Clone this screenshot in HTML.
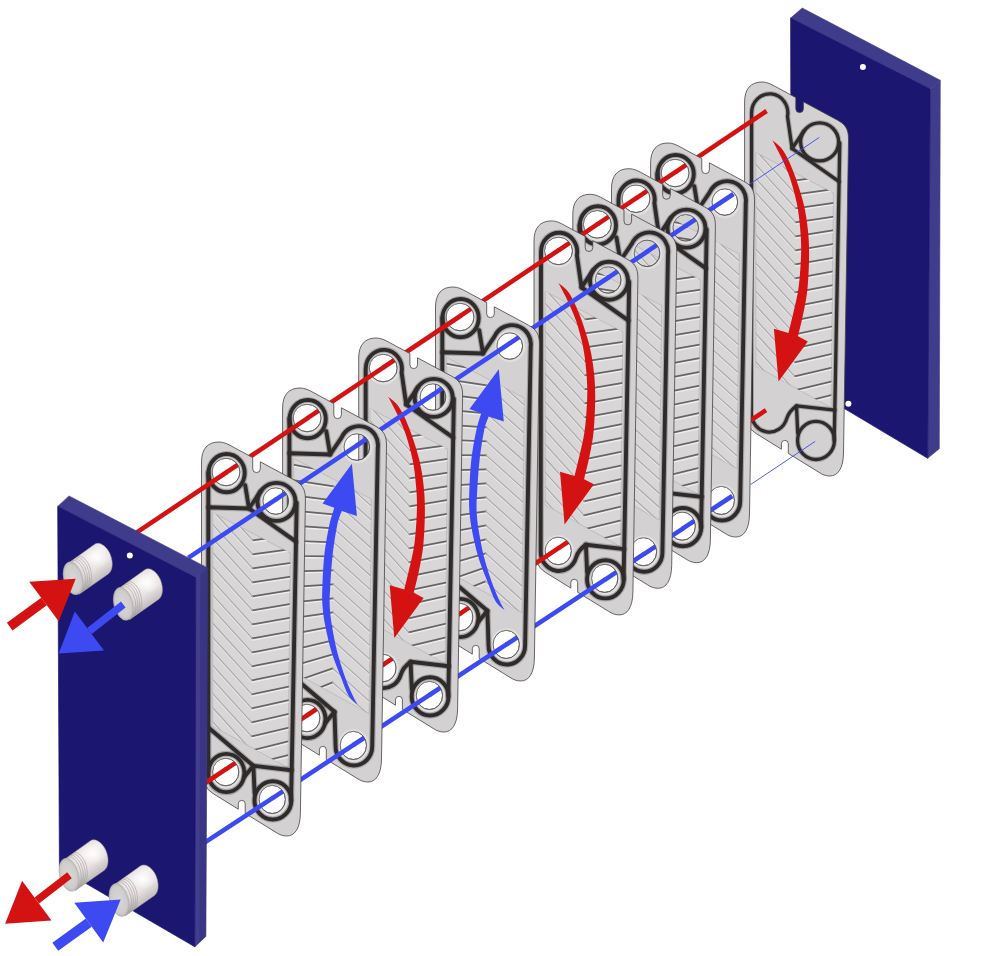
<!DOCTYPE html>
<html><head><meta charset="utf-8"><title>Plate heat exchanger</title>
<style>html,body{margin:0;padding:0;background:#fff}svg{display:block}</style></head>
<body><svg width="1000" height="956" viewBox="0 0 1000 956">
<defs><clipPath id="fc"><polygon points="212.7,512.5 290.3,553 288,767.7 212.7,726"/></clipPath><path id="po" d="M201.5,462 C201.5,449 207.5,442 219,442 C224,442 228,444.2 232,446.4 L252.7,457.6 L252.7,468.8 A3.8,3.8 0 0,0 260.3,468.8 L260.3,461.8 L294.5,480.2 C301.5,484 305.7,488.5 305.4,500 L300.4,813 C300.2,828 295,836.2 286.5,836 C282,835.9 279.5,834.5 276,832.4 L245.2,813.4 L245.2,803.8 A3.45,3.45 0 0,0 238.3,803.8 L238.3,809.2 L213,793.5 Q201.7,787 201.5,768 ZM212.0,472.0a14.0,13.8 0 1,0 28.0,0a14.0,13.8 0 1,0 -28.0,0ZM262.8,501.0a12.9,13.3 0 1,0 25.8,0a12.9,13.3 0 1,0 -25.8,0ZM212.5,772.0a13.2,13.8 0 1,0 26.4,0a13.2,13.8 0 1,0 -26.4,0ZM259.0,799.4a13.2,14.1 0 1,0 26.4,0a13.2,14.1 0 1,0 -26.4,0Z" fill-rule="evenodd" fill="#d3d1d1" stroke="#454242" stroke-width="0.8"/><path id="pod" d="M201.5,462 C201.5,449 207.5,442 219,442 C224,442 228,444.2 232,446.4 L252.7,457.6 L252.7,468.8 A3.8,3.8 0 0,0 260.3,468.8 L260.3,461.8 L294.5,480.2 C301.5,484 305.7,488.5 305.4,500 L300.4,813 C300.2,828 295,836.2 286.5,836 C282,835.9 279.5,834.5 276,832.4 L245.2,813.4 L245.2,803.8 A3.45,3.45 0 0,0 238.3,803.8 L238.3,809.2 L213,793.5 Q201.7,787 201.5,768 Z" fill="#d3d1d1" stroke="#454242" stroke-width="0.8"/><g id="fV"><polygon points="212.7,512.5 290.3,553 288,767.7 212.7,726" fill="#d8d6d6" stroke="#aeacac" stroke-width="0.6"/><g clip-path="url(#fc)" fill="none" stroke-linecap="round"><path d="M253.1,472.1L292,468.5M253.0,486.1L292,482.2M252.9,500.1L292,495.9M252.9,514.1L292,509.6M252.8,528.1L292,523.3M252.7,542.1L292,537.0M252.6,556.1L292,550.7M252.5,570.1L292,564.4M252.4,584.1L292,578.1M252.4,598.1L292,591.7M252.3,612.1L292,605.4M252.2,626.1L292,619.1M252.1,640.1L292,632.8M252.0,654.1L292,646.5M251.9,668.1L292,660.2M251.9,682.1L292,673.8M251.8,696.1L292,687.5M251.7,710.1L292,701.2M251.6,724.1L292,714.9M251.5,738.1L292,728.5M251.4,752.1L292,742.2M251.3,766.1L292,755.9M251.3,780.1L292,769.6M251.2,794.1L292,783.2M251.1,808.1L292,796.9M251.0,822.1L292,810.6M250.9,836.1L292,824.2M250.8,850.1L292,837.9M250.8,864.1L292,851.6" stroke="#eeeded" stroke-width="1.5"/><path d="M253.1,471.6L211,425.3M253.0,485.6L211,439.4M252.9,499.6L211,453.5M252.9,513.6L211,467.6M252.8,527.6L211,481.6M252.7,541.6L211,495.7M252.6,555.6L211,509.8M252.5,569.6L211,523.9M252.4,583.6L211,538.0M252.4,597.6L211,552.1M252.3,611.6L211,566.2M252.2,625.6L211,580.3M252.1,639.6L211,594.4M252.0,653.6L211,608.5M251.9,667.6L211,622.6M251.9,681.6L211,636.7M251.8,695.6L211,650.8M251.7,709.6L211,664.8M251.6,723.6L211,678.9M251.5,737.6L211,693.0M251.4,751.6L211,707.1M251.3,765.6L211,721.2M251.3,779.6L211,735.3M251.2,793.6L211,749.4M251.1,807.6L211,763.5M251.0,821.6L211,777.6M250.9,835.6L211,791.7M250.8,849.6L211,805.8M250.8,863.6L211,819.9" stroke="#eae9e9" stroke-width="1.2"/><path d="M253.1,470.4L292,466.8M253.0,484.4L292,480.5M252.9,498.4L292,494.2M252.9,512.4L292,507.9M252.8,526.4L292,521.6M252.7,540.4L292,535.3M252.6,554.4L292,549.0M252.5,568.4L292,562.7M252.4,582.4L292,576.4M252.4,596.4L292,590.0M252.3,610.4L292,603.7M252.2,624.4L292,617.4M252.1,638.4L292,631.1M252.0,652.4L292,644.8M251.9,666.4L292,658.5M251.9,680.4L292,672.1M251.8,694.4L292,685.8M251.7,708.4L292,699.5M251.6,722.4L292,713.2M251.5,736.4L292,726.8M251.4,750.4L292,740.5M251.3,764.4L292,754.2M251.3,778.4L292,767.9M251.2,792.4L292,781.5M251.1,806.4L292,795.2M251.0,820.4L292,808.9M250.9,834.4L292,822.5M250.8,848.4L292,836.2M250.8,862.4L292,849.9" stroke="#666464" stroke-width="1.7"/><path d="M253.1,470.4L211,424.1M253.0,484.4L211,438.2M252.9,498.4L211,452.3M252.9,512.4L211,466.4M252.8,526.4L211,480.4M252.7,540.4L211,494.5M252.6,554.4L211,508.6M252.5,568.4L211,522.7M252.4,582.4L211,536.8M252.4,596.4L211,550.9M252.3,610.4L211,565.0M252.2,624.4L211,579.1M252.1,638.4L211,593.2M252.0,652.4L211,607.3M251.9,666.4L211,621.4M251.9,680.4L211,635.5M251.8,694.4L211,649.6M251.7,708.4L211,663.6M251.6,722.4L211,677.7M251.5,736.4L211,691.8M251.4,750.4L211,705.9M251.3,764.4L211,720.0M251.3,778.4L211,734.1M251.2,792.4L211,748.2M251.1,806.4L211,762.3M251.0,820.4L211,776.4M250.9,834.4L211,790.5M250.8,848.4L211,804.6M250.8,862.4L211,818.7" stroke="#acaaaa" stroke-width="1.2"/></g></g><g id="fL"><polygon points="212.7,512.5 290.3,553 288,767.7 212.7,726" fill="#d8d6d6" stroke="#aeacac" stroke-width="0.6"/><g clip-path="url(#fc)" fill="none" stroke-linecap="round"><path d="M253.1,472.1L211,456.6M253.0,486.1L211,472.7M252.9,500.1L211,488.6M252.9,514.1L211,504.4M252.8,528.1L211,520.1M252.7,542.1L211,535.6M252.6,556.1L211,551.0M252.5,570.1L211,566.2M252.4,584.1L211,581.3M252.4,598.1L211,596.4M252.3,612.1L211,611.7M252.2,626.1L211,627.1M252.1,640.1L211,642.6M252.0,654.1L211,658.2M251.9,668.1L211,673.9M251.9,682.1L211,689.8M251.8,696.1L211,705.8M251.7,710.1L211,721.9M251.6,724.1L211,738.1M251.5,738.1L211,754.4M251.4,752.1L211,770.9M251.3,766.1L211,787.5M251.3,780.1L211,804.1M251.2,794.1L211,820.9M251.1,808.1L211,837.9M251.0,822.1L211,854.9M250.9,836.1L211,872.0M250.8,850.1L211,889.3M250.8,864.1L211,906.6" stroke="#eeeded" stroke-width="1.5"/><path d="M253.1,471.6L292,506.6M253.0,485.6L292,520.7M252.9,499.6L292,534.8M252.9,513.6L292,548.8M252.8,527.6L292,562.9M252.7,541.6L292,577.0M252.6,555.6L292,591.1M252.5,569.6L292,605.1M252.4,583.6L292,619.2M252.4,597.6L292,633.3M252.3,611.6L292,647.4M252.2,625.6L292,661.4M252.1,639.6L292,675.5M252.0,653.6L292,689.6M251.9,667.6L292,703.7M251.9,681.6L292,717.7M251.8,695.6L292,731.8M251.7,709.6L292,745.9M251.6,723.6L292,760.0M251.5,737.6L292,774.0M251.4,751.6L292,788.1M251.3,765.6L292,802.2M251.3,779.6L292,816.3M251.2,793.6L292,830.3M251.1,807.6L292,844.4M251.0,821.6L292,858.5M250.9,835.6L292,872.6M250.8,849.6L292,886.6M250.8,863.6L292,900.7" stroke="#eae9e9" stroke-width="1.2"/><path d="M253.1,470.4L211,454.9M253.0,484.4L211,471.0M252.9,498.4L211,486.9M252.9,512.4L211,502.7M252.8,526.4L211,518.4M252.7,540.4L211,533.9M252.6,554.4L211,549.3M252.5,568.4L211,564.5M252.4,582.4L211,579.6M252.4,596.4L211,594.7M252.3,610.4L211,610.0M252.2,624.4L211,625.4M252.1,638.4L211,640.9M252.0,652.4L211,656.5M251.9,666.4L211,672.2M251.9,680.4L211,688.1M251.8,694.4L211,704.1M251.7,708.4L211,720.2M251.6,722.4L211,736.4M251.5,736.4L211,752.7M251.4,750.4L211,769.2M251.3,764.4L211,785.8M251.3,778.4L211,802.4M251.2,792.4L211,819.2M251.1,806.4L211,836.2M251.0,820.4L211,853.2M250.9,834.4L211,870.3M250.8,848.4L211,887.6M250.8,862.4L211,904.9" stroke="#666464" stroke-width="1.7"/><path d="M253.1,470.4L292,505.4M253.0,484.4L292,519.5M252.9,498.4L292,533.6M252.9,512.4L292,547.6M252.8,526.4L292,561.7M252.7,540.4L292,575.8M252.6,554.4L292,589.9M252.5,568.4L292,603.9M252.4,582.4L292,618.0M252.4,596.4L292,632.1M252.3,610.4L292,646.2M252.2,624.4L292,660.2M252.1,638.4L292,674.3M252.0,652.4L292,688.4M251.9,666.4L292,702.5M251.9,680.4L292,716.5M251.8,694.4L292,730.6M251.7,708.4L292,744.7M251.6,722.4L292,758.8M251.5,736.4L292,772.8M251.4,750.4L292,786.9M251.3,764.4L292,801.0M251.3,778.4L292,815.1M251.2,792.4L292,829.1M251.1,806.4L292,843.2M251.0,820.4L292,857.3M250.9,834.4L292,871.4M250.8,848.4L292,885.4M250.8,862.4L292,899.5" stroke="#acaaaa" stroke-width="1.2"/></g></g><g id="gA" fill="none" stroke-linejoin="round" stroke-linecap="round"><g stroke="#2f2b2b" stroke-opacity="0.28" stroke-width="6.2"><path d="M249.0,508.5 L208.3,507.3 L208.3,727.4 L253.4,765.8 L291.7,770.2 L296.0,541.7 Z"/><ellipse cx="226.6" cy="473.1" rx="18.1" ry="19.1"/><ellipse cx="276.5" cy="501.9" rx="19.0" ry="19.0"/><ellipse cx="226.3" cy="773.0" rx="18.1" ry="19.1"/><ellipse cx="272.9" cy="800.4" rx="18.4" ry="19.1"/><path d="M208.3,507.3 L208.3,472.7 M208.3,727.4 L208.3,772.8 M296.0,541.7 L296.7,503 M291.7,770.2 L291.1,800 M245.2,485.2 L249.0,508.5 L260.6,491.3 M244.6,776.4 L253.4,765.8 L254.6,793"/></g><g stroke="#2f2b2b" stroke-width="3.9"><path d="M249.0,508.5 L208.3,507.3 L208.3,727.4 L253.4,765.8 L291.7,770.2 L296.0,541.7 Z"/><ellipse cx="226.6" cy="473.1" rx="18.1" ry="19.1"/><ellipse cx="276.5" cy="501.9" rx="19.0" ry="19.0"/><ellipse cx="226.3" cy="773.0" rx="18.1" ry="19.1"/><ellipse cx="272.9" cy="800.4" rx="18.4" ry="19.1"/><path d="M208.3,507.3 L208.3,472.7 M208.3,727.4 L208.3,772.8 M296.0,541.7 L296.7,503 M291.7,770.2 L291.1,800 M245.2,485.2 L249.0,508.5 L260.6,491.3 M244.6,776.4 L253.4,765.8 L254.6,793"/></g></g><g id="gB" fill="none" stroke-linejoin="round" stroke-linecap="round"><g stroke="#2f2b2b" stroke-opacity="0.28" stroke-width="6.2"><path d="M249.0,508.5 L208.3,507.3 L208.3,727.4 L253.4,765.8 L254.5,800.4 A18.4,19.1 0 0,0 272.9,819.5 A18.4,19.1 0 0,0 291.1,800.4 L296.7,501.9 A19.0,19.0 0 0,0 260.6,491.3 Z"/><ellipse cx="226.6" cy="473.1" rx="18.1" ry="19.1"/><ellipse cx="226.3" cy="773.0" rx="18.1" ry="19.1"/><path d="M208.3,507.3 L208.3,472.7 M208.3,727.4 L208.3,772.8 M245.2,485.2 L249.0,508.5 M244.6,776.4 L253.4,765.8"/></g><g stroke="#2f2b2b" stroke-width="3.9"><path d="M249.0,508.5 L208.3,507.3 L208.3,727.4 L253.4,765.8 L254.5,800.4 A18.4,19.1 0 0,0 272.9,819.5 A18.4,19.1 0 0,0 291.1,800.4 L296.7,501.9 A19.0,19.0 0 0,0 260.6,491.3 Z"/><ellipse cx="226.6" cy="473.1" rx="18.1" ry="19.1"/><ellipse cx="226.3" cy="773.0" rx="18.1" ry="19.1"/><path d="M208.3,507.3 L208.3,472.7 M208.3,727.4 L208.3,772.8 M245.2,485.2 L249.0,508.5 M244.6,776.4 L253.4,765.8"/></g></g><g id="gC" fill="none" stroke-linejoin="round" stroke-linecap="round"><g stroke="#2f2b2b" stroke-opacity="0.28" stroke-width="6.2"><path d="M249.0,508.5 L244.4,476.4 A18.1,19.1 0 1,0 208.5,473.1 L208.2,773.0 A18.1,19.1 0 0,0 243.6,778.6 C244.8,774.6 248.9,769.0 253.4,765.8 L291.7,770.2 L296.0,541.7 Z"/><ellipse cx="276.5" cy="501.9" rx="19.0" ry="19.0"/><ellipse cx="272.9" cy="800.4" rx="18.4" ry="19.1"/><path d="M296.0,541.7 L296.7,503 M291.7,770.2 L291.1,800 M249.0,508.5 L260.6,491.3 M253.4,765.8 L254.6,793"/></g><g stroke="#2f2b2b" stroke-width="3.9"><path d="M249.0,508.5 L244.4,476.4 A18.1,19.1 0 1,0 208.5,473.1 L208.2,773.0 A18.1,19.1 0 0,0 243.6,778.6 C244.8,774.6 248.9,769.0 253.4,765.8 L291.7,770.2 L296.0,541.7 Z"/><ellipse cx="276.5" cy="501.9" rx="19.0" ry="19.0"/><ellipse cx="272.9" cy="800.4" rx="18.4" ry="19.1"/><path d="M296.0,541.7 L296.7,503 M291.7,770.2 L291.1,800 M249.0,508.5 L260.6,491.3 M253.4,765.8 L254.6,793"/></g></g><g id="gD" fill="none" stroke-linejoin="round" stroke-linecap="round"><g stroke="#2f2b2b" stroke-opacity="0.28" stroke-width="5.3"><path d="M249.0,508.5 L244.4,476.4 A18.1,19.1 0 1,0 208.5,473.1 L208.2,773.0 A18.1,19.1 0 0,0 243.6,778.6 C244.8,774.6 248.9,769.0 253.4,765.8 L291.7,770.2 L296.0,541.7 Z"/><ellipse cx="276.5" cy="501.9" rx="19.0" ry="19.0"/><ellipse cx="272.9" cy="800.4" rx="18.4" ry="19.1"/><path d="M296.0,541.7 L296.7,503 M291.7,770.2 L291.1,800 M249.0,508.5 L260.6,491.3 M253.4,765.8 L254.6,793"/></g><g stroke="#2f2b2b" stroke-width="3.3"><path d="M249.0,508.5 L244.4,476.4 A18.1,19.1 0 1,0 208.5,473.1 L208.2,773.0 A18.1,19.1 0 0,0 243.6,778.6 C244.8,774.6 248.9,769.0 253.4,765.8 L291.7,770.2 L296.0,541.7 Z"/><ellipse cx="276.5" cy="501.9" rx="19.0" ry="19.0"/><ellipse cx="272.9" cy="800.4" rx="18.4" ry="19.1"/><path d="M296.0,541.7 L296.7,503 M291.7,770.2 L291.1,800 M249.0,508.5 L260.6,491.3 M253.4,765.8 L254.6,793"/></g></g><g id="hob" fill="none" stroke="#e1dfdf" stroke-width="2.2"><ellipse cx="226.3" cy="472.4" rx="15.2" ry="15.200000000000001"/><ellipse cx="276.0" cy="501.4" rx="14.1" ry="14.700000000000001"/><ellipse cx="226.0" cy="772.4" rx="14.399999999999999" ry="15.200000000000001"/><ellipse cx="272.5" cy="799.8" rx="14.399999999999999" ry="15.5"/></g><g id="ho" fill="none" stroke="#5f5c5c" stroke-width="0.7"><ellipse cx="226.0" cy="472.0" rx="14.0" ry="13.8"/><ellipse cx="275.7" cy="501.0" rx="12.9" ry="13.3"/><ellipse cx="225.7" cy="772.0" rx="13.2" ry="13.8"/><ellipse cx="272.2" cy="799.4" rx="13.2" ry="14.1"/></g><path id="ab" fill="#3d4af2" d="M270.8,517.7 L275.8,570.1 L260.7,565.1 C259.9,567.5 257.6,571.9 256.1,579.3C254.6,586.7 252.7,598.8 251.5,609.4C250.3,620.0 249.5,634.3 249.0,642.9C248.5,651.5 248.4,655.0 248.7,661.0C249.0,667.0 249.5,671.9 250.7,679.1C251.9,686.3 253.6,695.8 255.7,704.2C257.8,712.6 260.8,722.0 263.3,729.3C265.8,736.5 268.6,742.8 270.8,747.7C273.0,752.6 275.6,756.8 276.6,758.6 C275.1,757.1 270.3,754.3 267.4,749.4C264.5,744.5 262.0,736.8 259.1,729.3C256.2,721.8 252.4,712.6 249.9,704.2C247.4,695.8 245.4,686.3 244.0,679.1C242.6,671.9 242.0,667.0 241.5,661.0C241.0,655.0 240.9,651.5 241.2,642.9C241.5,634.3 242.0,620.0 243.2,609.4C244.4,598.8 246.5,587.2 248.2,579.3C249.9,571.3 252.4,564.6 253.2,561.7 L241.5,557.5 Z"/><path id="ar" fill="#d41212" d="M230.9,500.7C232.3,501.9 237.0,505.1 239.6,508.2C242.2,511.3 243.8,513.9 246.3,519.1C248.8,524.3 251.9,531.7 254.6,539.2C257.2,546.7 260.2,555.9 262.2,564.3C264.2,572.7 265.5,581.0 266.4,589.4C267.3,597.8 267.7,604.7 267.7,614.5C267.7,624.3 267.1,638.3 266.2,648.0C265.3,657.7 263.8,664.5 262.2,672.6C260.6,680.7 257.5,692.8 256.6,696.8 L266.4,701.9 L237.1,742 L232.5,689.3 L247.1,693.5 C247.9,690.0 250.4,680.2 252.1,672.6C253.8,665.0 255.9,657.7 257.2,648.0C258.5,638.3 259.4,624.3 259.7,614.5C260.0,604.7 259.5,597.8 258.8,589.4C258.1,581.0 257.2,572.7 255.5,564.3C253.8,555.9 251.3,546.7 248.8,539.2C246.3,531.7 242.8,524.4 240.4,519.1C238.0,513.8 236.2,510.5 234.6,507.4C233.0,504.3 231.5,501.8 230.9,500.7 Z"/><linearGradient id="ng" gradientUnits="userSpaceOnUse" x1="6" y1="-27" x2="26" y2="2"><stop offset="0" stop-color="#e2dbdc"/><stop offset="0.3" stop-color="#f3eeee"/><stop offset="0.65" stop-color="#e9e3e3"/><stop offset="1" stop-color="#c3bebe"/></linearGradient>
<radialGradient id="nh" cx="0.5" cy="0.5" r="0.5"><stop offset="0" stop-color="#fff" stop-opacity="1"/><stop offset="0.4" stop-color="#fff" stop-opacity="0.55"/><stop offset="1" stop-color="#fff" stop-opacity="0"/></radialGradient>
<radialGradient id="nc" cx="0.5" cy="0.5" r="0.5"><stop offset="0" stop-color="#d9d6d6"/><stop offset="0.8" stop-color="#cfcccc"/><stop offset="1" stop-color="#bcb8b8"/></radialGradient>
<linearGradient id="nl" gradientUnits="userSpaceOnUse" x1="0" y1="0" x2="30" y2="-21"><stop offset="0" stop-color="#000" stop-opacity="0.13"/><stop offset="0.45" stop-color="#000" stop-opacity="0"/></linearGradient><clipPath id="nbc"><path d="M-3.8,-15.9 L21.3,-33.9 C27.5,-38.2 37.5,-29 38.9,-17.2 C39.8,-11 38,-6.5 35.5,-4.6 L6.2,15.9 Z"/></clipPath><g id="nz"><path d="M-3.8,-15.9 L21.3,-33.9 C27.5,-38.2 37.5,-29 38.9,-17.2 C39.8,-11 38,-6.5 35.5,-4.6 L6.2,15.9 Z" fill="url(#ng)" stroke="#a99c94" stroke-width="0.5"/><path d="M-3.8,-15.9 L21.3,-33.9 C27.5,-38.2 37.5,-29 38.9,-17.2 C39.8,-11 38,-6.5 35.5,-4.6 L6.2,15.9 Z" fill="url(#nl)"/><ellipse cx="23.8" cy="-21" rx="13" ry="11" fill="url(#nh)"/><g clip-path="url(#nbc)" fill="none" stroke="#aaa4a4" stroke-width="0.6"><ellipse cx="2.62" cy="-1.83" rx="16.8" ry="9.4" transform="rotate(76.3 2.62 -1.83)"/><ellipse cx="4.59" cy="-3.20" rx="16.8" ry="9.4" transform="rotate(76.3 4.59 -3.20)"/><ellipse cx="6.56" cy="-4.58" rx="16.8" ry="9.4" transform="rotate(76.3 6.56 -4.58)"/><ellipse cx="8.53" cy="-5.95" rx="16.8" ry="9.4" transform="rotate(76.3 8.53 -5.95)"/></g><ellipse cx="0" cy="0" rx="16.8" ry="9.4" transform="rotate(76.3)" fill="url(#nc)" stroke="#b3adad" stroke-width="0.5"/></g></defs>
<rect width="1000" height="956" fill="#fff"/>
<polygon points="790.6,18.1 802.2,8 940.3,80.3 930.2,89.1" fill="#3f3c8b" stroke="#3f3c8b" stroke-width="0.6" stroke-linejoin="round"/>
<polygon points="930.2,89.1 940.3,80.3 939.3,448.7 927.7,458.3" fill="#3f3c8b" stroke="#3f3c8b" stroke-width="0.6" stroke-linejoin="round"/>
<polygon points="790.6,18.1 930.2,89.1 927.7,458.3 791.5,377" fill="#1b1670" stroke="#1b1670" stroke-width="0.7" stroke-linejoin="round"/>
<circle cx="862.9" cy="67" r="3" fill="#fff"/><circle cx="848.4" cy="403.8" r="3" fill="#fff"/>
<g transform="translate(543.1,-360.0)"><use href="#pod"/><use href="#fV"/><use href="#gD"/><use href="#ar" x="-1.7" y="-0.5"/></g>
<line x1="819.3" y1="137.4" x2="748" y2="185.4" stroke="#3d4af2" stroke-width="0.9"/>
<line x1="815.2" y1="441.4" x2="750.5" y2="484.6" stroke="#3d4af2" stroke-width="0.9"/>
<line x1="766.6" y1="111.0" x2="675.1" y2="172.3" stroke="#d41212" stroke-width="4.6"/>
<line x1="766.0" y1="410.2" x2="674.8" y2="470.8" stroke="#d41212" stroke-width="4.6"/>
<g transform="translate(449.1,-299.0)"><use href="#po"/><use href="#fL"/><use href="#hob"/><use href="#gB"/><use href="#ho"/></g>
<line x1="676.1" y1="171.6" x2="636.0" y2="198.4" stroke="#d41212" stroke-width="4.6"/>
<line x1="733.5" y1="194.0" x2="685.7" y2="225.9" stroke="#3d4af2" stroke-width="4.6"/>
<line x1="675.8" y1="470.2" x2="635.7" y2="496.8" stroke="#d41212" stroke-width="4.6"/>
<line x1="732.3" y1="496.0" x2="682.2" y2="528.9" stroke="#3d4af2" stroke-width="4.6"/>
<g transform="translate(410.0,-273.3)"><use href="#po"/><use href="#fV"/><use href="#hob"/><use href="#gC"/><use href="#ho"/></g>
<line x1="637.0" y1="197.7" x2="597.3" y2="224.3" stroke="#d41212" stroke-width="4.6"/>
<line x1="686.7" y1="225.2" x2="647.0" y2="251.7" stroke="#3d4af2" stroke-width="4.6"/>
<line x1="636.7" y1="496.2" x2="597.0" y2="522.6" stroke="#d41212" stroke-width="4.6"/>
<line x1="683.2" y1="528.3" x2="643.5" y2="554.4" stroke="#3d4af2" stroke-width="4.6"/>
<g transform="translate(371.3,-247.7)"><use href="#po"/><use href="#fL"/><use href="#hob"/><use href="#gB"/><use href="#ho"/></g>
<line x1="598.3" y1="223.6" x2="558.5" y2="250.3" stroke="#d41212" stroke-width="4.6"/>
<line x1="648.0" y1="251.1" x2="608.2" y2="277.6" stroke="#3d4af2" stroke-width="4.6"/>
<line x1="598.0" y1="521.9" x2="558.2" y2="548.4" stroke="#d41212" stroke-width="4.6"/>
<line x1="644.5" y1="553.7" x2="604.7" y2="579.8" stroke="#3d4af2" stroke-width="4.6"/>
<g transform="translate(332.5,-221.1)"><use href="#po"/><use href="#fV"/><use href="#hob"/><use href="#gC"/><use href="#ho"/><use href="#ar" x="-5" y="3.5"/></g>
<line x1="559.5" y1="249.6" x2="460.0" y2="316.2" stroke="#d41212" stroke-width="4.6"/>
<line x1="609.2" y1="277.0" x2="509.7" y2="343.4" stroke="#3d4af2" stroke-width="4.6"/>
<line x1="559.2" y1="547.7" x2="459.7" y2="613.8" stroke="#d41212" stroke-width="4.6"/>
<line x1="605.7" y1="579.2" x2="506.2" y2="644.6" stroke="#3d4af2" stroke-width="4.6"/>
<g transform="translate(234.0,-155.0)"><use href="#po"/><use href="#fL"/><use href="#hob"/><use href="#gB"/><use href="#ho"/><use href="#ab" x="-6" y="6.5"/></g>
<line x1="461.0" y1="315.5" x2="383.2" y2="367.5" stroke="#d41212" stroke-width="4.6"/>
<line x1="510.7" y1="342.7" x2="432.9" y2="394.7" stroke="#3d4af2" stroke-width="4.6"/>
<line x1="460.7" y1="613.2" x2="382.9" y2="664.9" stroke="#d41212" stroke-width="4.6"/>
<line x1="507.2" y1="643.9" x2="429.4" y2="695.0" stroke="#3d4af2" stroke-width="4.6"/>
<g transform="translate(157.2,-104.0)"><use href="#po"/><use href="#fV"/><use href="#hob"/><use href="#gC"/><use href="#ho"/><use href="#ar" x="0" y="0"/></g>
<line x1="384.2" y1="366.9" x2="307.1" y2="418.4" stroke="#d41212" stroke-width="4.6"/>
<line x1="433.9" y1="394.0" x2="356.8" y2="445.5" stroke="#3d4af2" stroke-width="4.6"/>
<line x1="383.9" y1="664.2" x2="306.8" y2="715.5" stroke="#d41212" stroke-width="4.6"/>
<line x1="430.4" y1="694.4" x2="353.3" y2="745.0" stroke="#3d4af2" stroke-width="4.6"/>
<g transform="translate(81.1,-54.0)"><use href="#po"/><use href="#fL"/><use href="#hob"/><use href="#gB"/><use href="#ho"/><use href="#ab" x="0" y="0"/></g>
<line x1="308.1" y1="417.8" x2="226.0" y2="472.7" stroke="#d41212" stroke-width="4.6"/>
<line x1="357.8" y1="444.8" x2="275.7" y2="499.6" stroke="#3d4af2" stroke-width="4.6"/>
<line x1="307.8" y1="714.8" x2="225.7" y2="769.4" stroke="#d41212" stroke-width="4.6"/>
<line x1="354.3" y1="744.4" x2="272.2" y2="798.3" stroke="#3d4af2" stroke-width="4.6"/>
<g transform="translate(0.0,0.0)"><use href="#po"/><use href="#fV"/><use href="#hob"/><use href="#gA"/><use href="#ho"/></g>
<line x1="227.0" y1="472.0" x2="136.8" y2="532.4" stroke="#d41212" stroke-width="4.6"/>
<line x1="276.7" y1="498.9" x2="188.3" y2="557.9" stroke="#3d4af2" stroke-width="4.6"/>
<line x1="226.7" y1="768.7" x2="200.0" y2="786.5" stroke="#d41212" stroke-width="4.6"/>
<line x1="273.2" y1="797.6" x2="200.0" y2="845.7" stroke="#3d4af2" stroke-width="4.6"/>
<polygon points="57.7,506.4 69,495.9 207.7,567.9 195.7,577.6" fill="#3f3c8b" stroke="#3f3c8b" stroke-width="0.6" stroke-linejoin="round"/>
<polygon points="195.7,577.6 207.7,567.9 205.9,936.4 194.8,946.8" fill="#383584" stroke="#383584" stroke-width="0.6" stroke-linejoin="round"/>
<polygon points="195.7,577.6 200.4,573.8 199.4,942.5 194.8,946.8" fill="#413e8d"/>
<polygon points="57.7,506.4 195.7,577.6 194.8,946.8 59.4,868" fill="#1b1670" stroke="#1b1670" stroke-width="0.7" stroke-linejoin="round"/>
<circle cx="129.8" cy="555.4" r="3" fill="#fff"/>
<use href="#nz" x="73.1" y="578.3"/>
<use href="#nz" x="123.3" y="603.8"/>
<use href="#nz" x="68.9" y="874.8"/>
<use href="#nz" x="119" y="900"/>
<line x1="9.7" y1="626.7" x2="44.0" y2="601.5" stroke="#d41212" stroke-width="9.5"/><polygon points="75.7,578.8 29.2,581.7 58.7,621.3" fill="#d41212"/>
<line x1="123.3" y1="604.5" x2="89.4" y2="631.0" stroke="#3d4af2" stroke-width="7.4"/><polygon points="58.7,653.6 74.8,611.4 104,650.5" fill="#3d4af2"/>
<line x1="69.5" y1="875.3" x2="36.8" y2="900.5" stroke="#d41212" stroke-width="7.4"/><polygon points="5.1,923.8 22.1,880.7 51.5,920.4" fill="#d41212"/>
<line x1="55.3" y1="946.7" x2="88.8" y2="922.6" stroke="#3d4af2" stroke-width="10"/><polygon points="120.7,899.4 74.3,902.8 103.2,942.5" fill="#3d4af2"/>
</svg></body></html>
